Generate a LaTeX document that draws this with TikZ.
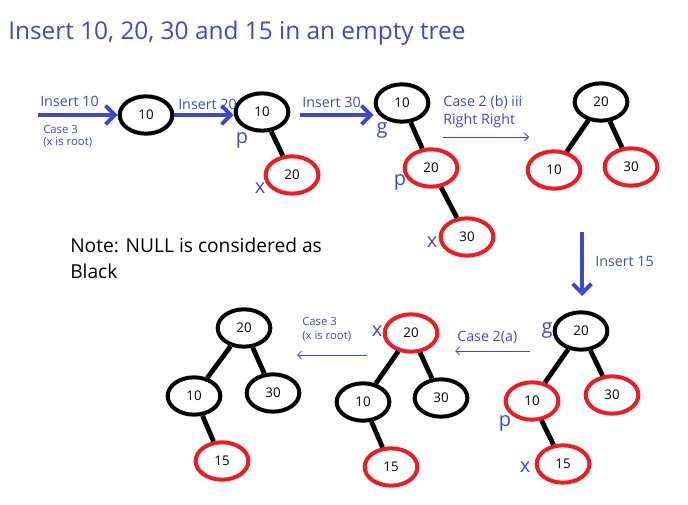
\documentclass[tikz,border=0pt]{standalone}
\usepackage{fontspec}
\setmainfont{Open Sans}
\usetikzlibrary{shapes.geometric,arrows.meta}
\definecolor{pblue}{HTML}{3F48CC}
\definecolor{pred}{HTML}{ED1C24}
\begin{document}
\begin{tikzpicture}[x=0.75pt,y=-0.75pt,
  bn/.style={ellipse,draw=black,line width=3pt,minimum width=39.5pt,minimum height=28pt,inner sep=0pt,font=\fontsize{10}{12}\selectfont},
  rn/.style={bn,draw=pred},
  edge/.style={line width=3.6pt,black},
  bigarrow/.style={line width=3.6pt,pblue,-{Straight Barb[length=7pt,width=14pt,line width=3pt]}},
  thinarrow/.style={line width=0.6pt,pblue,-{Straight Barb[length=3pt,width=6pt]}},
  lbl/.style={text=pblue,font=\fontsize{10.7}{12}\selectfont,inner sep=0pt,anchor=west},
  sml/.style={text=pblue,font=\fontsize{8.5}{9}\selectfont,inner sep=0pt,anchor=west},
  ltr/.style={text=pblue,font=\fontsize{15}{16}\selectfont,inner sep=0pt},
  notetxt/.style={font=\fontsize{14.4}{16}\selectfont,anchor=west,inner sep=0pt}
]
\useasboundingbox (0,0) rectangle (688,505);
\node[text=pblue,font=\fontsize{18.3}{22}\selectfont,anchor=west,inner sep=0pt] (title) at (8,33) {Insert 10, 20, 30 and 15 in an empty tree};

% Step 1
\coordinate (s1) at (38,115);
\node[bn] (a1) at (146,115) {10};
\draw[bigarrow] (s1) -- (a1.west);
\node[lbl] (l1) at (40,101) {Insert 10};
\node[sml] (l1b) at (43,129) {Case 3};
\node[sml] (l1c) at (43,142) {(x is root)};

% Step 2
\node[bn] (b1) at (262,112) {10};
\node[rn] (b2) at (292,175) {20};
\draw[edge] (b1) -- (b2);
\draw[bigarrow] (a1.east) -- (a1.east -| b1.west);
\node[lbl] (l2) at (178,104) {Insert 20};
\node[ltr] (p1) at (242,140) {p};
\node[ltr] (x1) at (260,188) {x};

% Step 3
\node[bn] (c1) at (402,103) {10};
\node[rn] (c2) at (431,168) {20};
\node[rn] (c3) at (467,237) {30};
\draw[edge] (c1) -- (c2);
\draw[edge] (c2) -- (c3);
\coordinate (s3) at (300,115);
\draw[bigarrow] (s3) -- (c1.west|-s3);
\node[lbl] (l3) at (302,102) {Insert 30};
\node[ltr] (g1) at (382,130) {g};
\node[ltr] (p2) at (400,182) {p};
\node[ltr] (x2) at (432,242) {x};

% Step 4
\node[bn] (d1) at (601,102) {20};
\node[rn] (d2) at (554,170) {10};
\node[rn] (d3) at (631,167) {30};
\draw[edge] (d1) -- (d2);
\draw[edge] (d1) -- (d3);
\coordinate (t4a) at (443,137);
\coordinate (t4b) at (529,137);
\draw[thinarrow] (t4a) -- (t4b);
\node[lbl] (l4a) at (443,102) {Case 2 (b) iii};
\node[lbl] (l4b) at (443,121) {Right Right};

% Insert 15 arrow
\coordinate (v1) at (582,232);
\coordinate (v2) at (582,296);
\draw[bigarrow] (v1) -- (v2);
\node[lbl] (l5) at (595,261) {Insert 15};

% Note
\node[notetxt] (note1) at (70,245) {Note: NULL is considered as};
\node[notetxt] (note2) at (70,271) {Black};

% Step 5 (right)
\node[bn] (e1) at (581,331) {20};
\node[rn] (e2) at (532,401) {10};
\node[rn] (e3) at (612,395) {30};
\node[rn] (e4) at (563,464) {15};
\draw[edge] (e1) -- (e2);
\draw[edge] (e1) -- (e3);
\draw[edge] (e2) -- (e4);
\node[ltr] (g2) at (547,330) {g};
\node[ltr] (p3) at (505,423) {p};
\node[ltr] (x3) at (525,467) {x};

\coordinate (t5a) at (530,351);
\coordinate (t5b) at (455,351);
\draw[thinarrow] (t5a) -- (t5b);
\node[lbl] (l6) at (457,337) {Case 2(a)};

% Step 6 (middle)
\node[rn] (f1) at (411,333) {20};
\node[bn] (f2) at (363,402) {10};
\node[bn] (f3) at (441,398) {30};
\node[rn] (f4) at (391,467) {15};
\draw[edge] (f1) -- (f2);
\draw[edge] (f1) -- (f3);
\draw[edge] (f2) -- (f4);
\node[ltr] (x4) at (377,331) {x};

\coordinate (t6a) at (367,355);
\coordinate (t6b) at (297,355);
\draw[thinarrow] (t6a) -- (t6b);
\node[sml] (l7a) at (302,321) {Case 3};
\node[sml] (l7b) at (302,336) {(x is root)};

% Step 7 (left)
\node[bn] (h1) at (244,328) {20};
\node[bn] (h2) at (194,396) {10};
\node[bn] (h3) at (273,393) {30};
\node[rn] (h4) at (222,461) {15};
\draw[edge] (h1) -- (h2);
\draw[edge] (h1) -- (h3);
\draw[edge] (h2) -- (h4);
\end{tikzpicture}
\end{document}
